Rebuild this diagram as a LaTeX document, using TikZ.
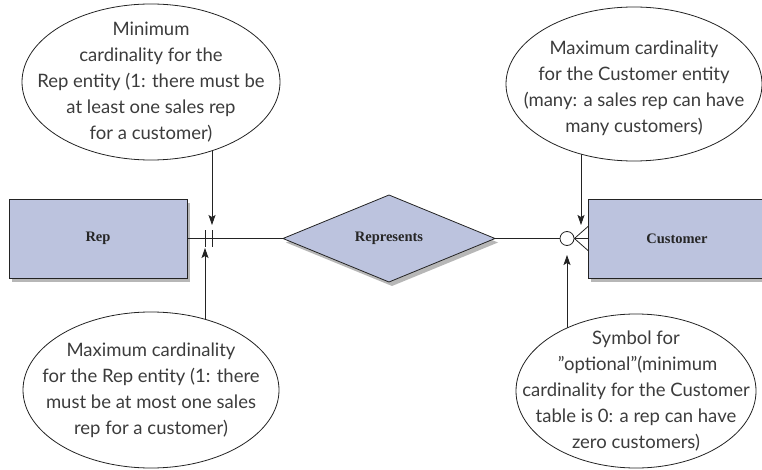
\documentclass[tikz,border=0pt]{standalone}
\usepackage{fontspec}
\newfontfamily\notefont{Lato}
\newfontfamily\entfont{Liberation Serif}
\usetikzlibrary{shapes.geometric,shadows,arrows.meta}
\pgfdeclarelayer{background}
\pgfsetlayers{background,main}
\definecolor{entfill}{RGB}{188,195,222}
\definecolor{notetext}{RGB}{60,60,60}
\definecolor{edgecol}{RGB}{35,35,35}
\begin{document}
\begin{tikzpicture}[x=1pt,y=-1pt,
  shadowed/.style={drop shadow={shadow xshift=3pt,shadow yshift=-4pt,opacity=0.4,fill=black!70}},
  entity/.style={rectangle,draw=edgecol,line width=0.8pt,fill=entfill,shadowed,
    minimum width=178pt,minimum height=79pt,inner sep=0pt,outer sep=0pt,
    font=\entfont\bfseries\fontsize{14.5}{16}\selectfont,text=black!85},
  rel/.style={diamond,draw=edgecol,line width=0.8pt,fill=entfill,shadowed,
    aspect=2.44,minimum width=212pt,minimum height=87pt,inner sep=0pt,outer sep=0pt,
    font=\entfont\bfseries\fontsize{14.5}{16}\selectfont,text=black!85},
  note/.style={ellipse,draw=edgecol,line width=0.8pt,fill=white,inner sep=0pt,outer sep=0pt},
  notetxt/.style={align=center,inner sep=0pt,text=notetext,
    font=\notefont\fontsize{18.5}{26}\selectfont},
  link/.style={draw=edgecol,line width=0.8pt},
  arr/.style={link,-{Stealth[length=10pt,width=7pt,inset=2pt]}}
]
\useasboundingbox (0,0) rectangle (762,470);
\clip (0,0) rectangle (762,470);

% entities and relationship
\node[entity] (rep) at (98,238.5) {Rep};
\node[entity] (cust) at (677,238.5) {Customer};
\node[rel] (rel) at (389,238.5) {Represents};
\node[circle,draw=edgecol,line width=0.8pt,fill=white,minimum size=14pt,inner sep=0pt] (opt) at (567,238.5) {};

% callout ellipses
\node[note,minimum width=258pt,minimum height=156pt] (tl) at (151,82) {};
\node[notetxt] (tlt) at (tl.center) {Minimum\\cardinality for the\\Rep entity (1: there must be\\at least one sales rep\\for a customer)};
\node[note,minimum width=256pt,minimum height=154pt] (tr) at (634,84) {};
\node[notetxt] (trt) at ([yshift=-4pt]tr.center) {Maximum cardinality\\for the Customer entity\\(many: a sales rep can have\\many customers)};
\node[note,minimum width=256pt,minimum height=156pt] (bl) at (151,390) {};
\node[notetxt] (blt) at (bl.center) {Maximum cardinality\\for the Rep entity (1: there\\must be at most one sales\\rep for a customer)};
\node[note,minimum width=240pt,minimum height=154pt] (br) at (636,391) {};
\node[notetxt] (brt) at (br.center) {Symbol for\\\,”optional”(minimum\\cardinality for the Customer\\table is 0: a rep can have\\zero customers)};

% cardinality marks
\coordinate (b1) at (205,238.5);
\coordinate (b2) at (212,238.5);
\coordinate (tA) at (212,225);
\coordinate (tB) at (205,248);
\coordinate (tC) at (581,225);
\coordinate (tD) at (567,255);

\draw[link] (rep) -- (rel);
\draw[link] (rel) -- (opt);
\draw[link] (opt.east) -- (cust.west);
\draw[link] (opt.east) -- ([yshift=12pt]cust.west);
\draw[link] (opt.east) -- ([yshift=-12pt]cust.west);
\draw[link] ([yshift=8pt]b1) -- ([yshift=-8pt]b1);
\draw[link] ([yshift=8pt]b2) -- ([yshift=-8pt]b2);

\begin{pgfonlayer}{background}
\draw[arr] (tA |- tl.center) -- (tA);
\draw[arr] (tB |- bl.center) -- (tB);
\draw[arr] (tC |- tr.center) -- (tC);
\draw[arr] (tD |- br.center) -- (tD);
\end{pgfonlayer}
\end{tikzpicture}
\end{document}
